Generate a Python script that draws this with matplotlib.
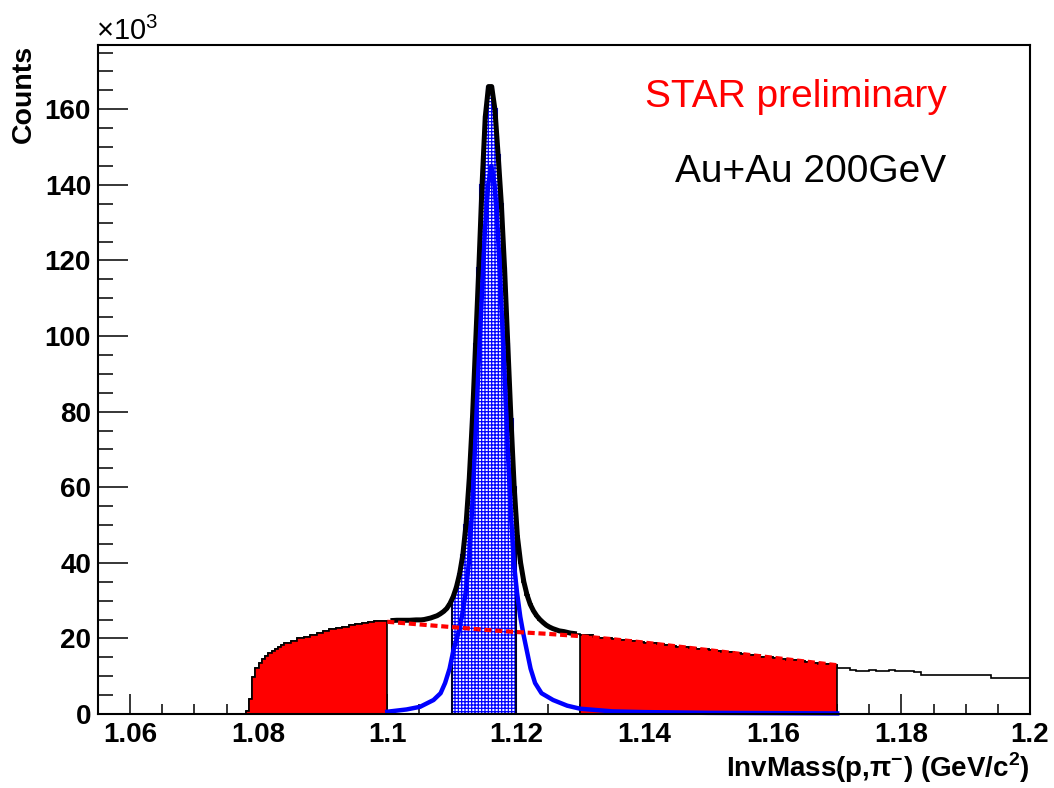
import numpy as np
import matplotlib
matplotlib.use("Agg")
import matplotlib.pyplot as plt
from matplotlib.ticker import MultipleLocator, FuncFormatter

plt.rcParams['font.family'] = ['Liberation Sans', 'DejaVu Sans']
plt.rcParams['mathtext.fontset'] = 'custom'
plt.rcParams['mathtext.rm'] = 'Liberation Sans'
plt.rcParams['mathtext.bf'] = 'Liberation Sans:bold'
plt.rcParams['hatch.linewidth'] = 0.9

# ---------------- data (counts in units of 10^3) ----------------
# histogram segments: (first bin low edge, bin width, bin contents)
rise_start, rise_width = 1.078, 0.0005
counts_rise = [0.8, 4.0, 9.8, 12.1, 13.6, 14.6, 15.4, 16.1, 16.7, 17.2, 17.8, 18.3]

left_start, left_width = 1.084, 0.001
counts_left = [18.8, 19.4, 20.0, 20.5, 21.0, 21.5, 22.0, 22.4, 22.8, 23.1,
               23.5, 23.8, 24.1, 24.3, 24.5, 24.6, 24.7, 24.8, 24.8, 24.8, 24.9]

peak_start, peak_width = 1.105, 0.0005
counts_peak = [24.9, 25.0, 25.2, 25.4, 25.7, 26.0, 26.5, 27.1, 27.9, 29.2,
               31.0, 33.5, 37.0, 42.0, 50.0, 62.0, 78.0, 98.0, 118.0, 140.0,
               158.0, 166.0, 166.0, 160.0, 148.0, 135.0, 118.0, 98.0, 78.0, 60.0,
               47.0, 40.0, 35.0, 31.5, 29.0, 27.3, 26.0, 25.0, 24.2, 23.5,
               23.0, 22.6, 22.3, 22.0]

right_start, right_width = 1.127, 0.001
counts_right = [21.8, 21.4, 21.2, 20.9, 20.8, 20.5, 20.2, 20.1, 19.9, 19.6,
                19.5, 19.4, 19.1, 18.9, 18.7, 18.4, 18.3, 18.1, 17.8, 17.7,
                17.5, 17.2, 17.1, 16.9, 16.7, 16.4, 16.3, 16.1, 15.8, 15.6,
                15.5, 15.2, 15.0, 14.8, 14.5, 14.4, 14.2, 13.9, 13.8, 13.6,
                13.3, 13.2, 13.0,
                12.1, 12.1, 11.6, 11.5, 11.5, 11.7, 11.4, 11.5, 11.6, 11.4,
                11.3, 11.3, 11.2, 10.3, 10.3, 10.3, 10.2, 10.4, 10.3, 10.3,
                10.2, 10.3, 10.2, 10.2, 9.4, 9.4, 9.4, 9.4, 9.4, 9.4]
hist_end = 1.2

# signal fit (blue)
sig_x = [1.1000, 1.1030, 1.1051, 1.1072, 1.1083, 1.1090, 1.1097, 1.1103, 1.1110, 1.1116,
         1.1122, 1.1127, 1.1132, 1.1137, 1.1142, 1.1147, 1.1152, 1.1157, 1.1162, 1.1167,
         1.1172, 1.1177, 1.1182, 1.1187, 1.1192, 1.1197, 1.1202, 1.1207, 1.1212, 1.1217,
         1.1223, 1.1230, 1.1240, 1.1258, 1.1280, 1.1300, 1.1350, 1.1400, 1.1500, 1.1700]
sig_y = [0.6, 1.2, 1.9, 3.7, 5.5, 8.2, 12, 16.9, 21, 25.7,
         32, 40, 54, 72, 92, 110, 128, 140, 145, 140,
         128, 110, 92, 72, 54, 40, 32, 25.7, 21, 16.9,
         12, 8.2, 5.5, 3.7, 2.2, 1.4, 0.7, 0.5, 0.3, 0.15]

# background fit (red dashed)
bg_x = [1.100, 1.105, 1.110, 1.115, 1.120, 1.125, 1.130, 1.135, 1.140, 1.145,
        1.150, 1.155, 1.160, 1.165, 1.170]
bg_y = [24.4, 23.7, 23.0, 22.3, 21.7, 21.2, 20.6, 19.8, 18.9, 17.9,
        16.9, 15.9, 14.9, 13.9, 12.9]

sideband_left = (1.078, 1.100)
sideband_right = (1.130, 1.170)
signal_window = (1.110, 1.120)
thick_range = (1.100, 1.130)

x_ticks = [1.06, 1.08, 1.10, 1.12, 1.14, 1.16, 1.18, 1.20]
x_range = (1.055, 1.2)
y_range = (0, 177)

# ---------------- build histogram ----------------
segments = [(rise_start, rise_width, counts_rise), (left_start, left_width, counts_left),
            (peak_start, peak_width, counts_peak), (right_start, right_width, counts_right)]
edge_parts, values = [], []
for start, width, vals in segments:
    edge_parts.append(start + width * np.arange(len(vals)))
    values.extend(vals)
edges = np.round(np.concatenate(edge_parts + [[hist_end]]), 5)
values = np.array(values)
centers = 0.5 * (edges[:-1] + edges[1:])


def sub(lo, hi):
    i0 = int(np.argmin(np.abs(edges - lo)))
    i1 = int(np.argmin(np.abs(edges - hi)))
    return values[i0:i1], edges[i0:i1 + 1]


fig = plt.figure(figsize=(10.54, 7.88), dpi=100)
ax = fig.add_axes([98 / 1054, 1 - 714 / 788, (1030 - 98) / 1054, (714 - 45) / 788])

# thin histogram
ax.stairs(values, edges, color='black', lw=1.2, zorder=2)

# red sidebands
for lo, hi in (sideband_left, sideband_right):
    v, e = sub(lo, hi)
    ax.stairs(v, e, fill=True, facecolor='#ff0000', edgecolor='black', lw=1.2, zorder=3)

# hatched signal window
v, e = sub(*signal_window)
ax.stairs(v, e, fill=True, facecolor='white', edgecolor='#0000ff', hatch='+' * 5,
          lw=1.5, zorder=3)
ax.vlines([e[0], e[-1]], 0, [v[0], v[-1]], color='black', lw=1.2, zorder=3.5)

# thick total (histogram drawn as smooth line through bin centres)
m = (centers >= thick_range[0]) & (centers <= thick_range[1])
ax.plot(centers[m], values[m], color='black', lw=3.6, solid_joinstyle='round',
        solid_capstyle='butt', zorder=4)

# signal fit
ax.plot(sig_x, sig_y, color='#0000ff', lw=3.2, zorder=5, clip_on=False,
        solid_joinstyle='round')

# background fit
ax.plot(bg_x, bg_y, color='#ff0000', lw=3, dashes=(1.7, 0.9), dash_capstyle='butt',
        zorder=6)

ax.set_xlim(*x_range)
ax.set_ylim(*y_range)

ax.set_xticks(x_ticks)
ax.xaxis.set_minor_locator(MultipleLocator(0.005))
ax.yaxis.set_major_locator(MultipleLocator(20))
ax.yaxis.set_minor_locator(MultipleLocator(5))
ax.xaxis.set_major_formatter(FuncFormatter(lambda x, p: '%g' % round(x, 3)))
ax.yaxis.set_major_formatter(FuncFormatter(lambda y, p: '%g' % y))

ax.tick_params(axis='both', which='both', direction='in', top=False, right=False, width=1.1)
ax.tick_params(axis='y', which='major', length=21.6, pad=5, labelsize=20)
ax.tick_params(axis='y', which='minor', length=10.8)
ax.tick_params(axis='x', which='major', length=14.4, pad=6, labelsize=20)
ax.tick_params(axis='x', which='minor', length=7.4)
for lab in ax.get_xticklabels() + ax.get_yticklabels():
    lab.set_fontweight('bold')
for s in ax.spines.values():
    s.set_linewidth(1.5)
    s.set_zorder(7)

fig.text(24 / 1054, 1 - 45 / 788, 'Counts', rotation=90, ha='center', va='top',
         fontsize=20.5, fontweight='bold')
fig.text(1030 / 1054, 1 - 777 / 788, r'InvMass(p,π$^{\mathbf{-}}$) (GeV/c$^{\mathbf{2}}$)',
         ha='right', va='baseline', fontsize=20, fontweight='bold')
fig.text(96 / 1054, 1 - 40 / 788, r'$\times10^{3}$', ha='left', va='baseline', fontsize=21)

ax.text(0.587, 0.907, 'STAR preliminary', transform=ax.transAxes, color='#ff0000',
        fontsize=28, ha='left', va='baseline')
ax.text(0.619, 0.795, 'Au+Au 200GeV', transform=ax.transAxes, color='black',
        fontsize=28, ha='left', va='baseline')

fig.savefig('out.png', dpi=100, facecolor='white')
